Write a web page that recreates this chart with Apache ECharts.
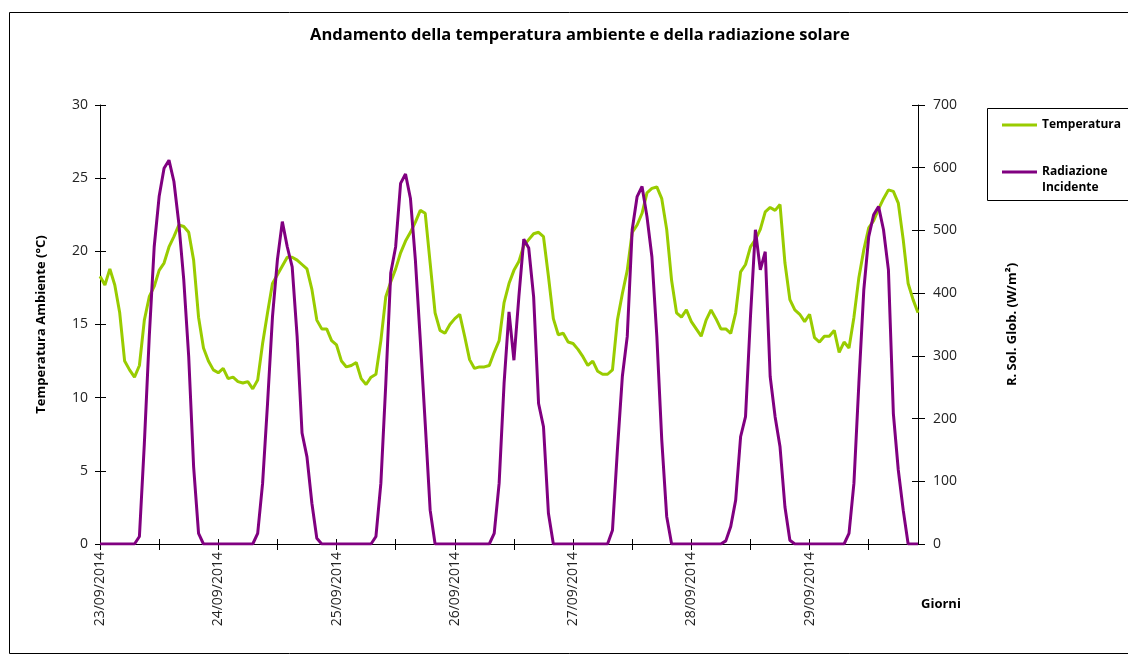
<!DOCTYPE html>
<html>
<head>
<meta charset="utf-8">
<script src="https://cdn.jsdelivr.net/npm/echarts@6/dist/echarts.min.js"></script>
<style>
html,body{margin:0;padding:0;background:#fff;}
#chart{width:1128px;height:662px;}
</style>
</head>
<body>
<div id="chart"></div>
<script>
// ---- data ----
const days = ['23/09/2014','24/09/2014','25/09/2014','26/09/2014','27/09/2014','28/09/2014','29/09/2014'];
const temperatura = [
18.3,17.7,18.8,17.7,15.8,12.5,11.9,11.4,12.2,15.3,16.9,17.6,18.7,19.2,20.3,21.0,21.8,21.7,21.3,19.4,15.5,13.4,12.5,11.9,
11.7,12.0,11.3,11.4,11.1,11.0,11.1,10.6,11.2,13.7,15.8,17.8,18.4,19.0,19.6,19.6,19.4,19.1,18.8,17.4,15.3,14.7,14.7,13.9,
13.6,12.5,12.1,12.2,12.4,11.3,10.9,11.4,11.6,13.9,16.9,17.9,18.8,19.9,20.7,21.3,22.0,22.8,22.6,19.2,15.8,14.6,14.4,15.0,
15.4,15.7,14.2,12.6,12.0,12.1,12.1,12.2,13.1,13.9,16.5,17.8,18.7,19.3,20.4,20.8,21.2,21.3,21.0,18.3,15.4,14.3,14.4,13.8,
13.7,13.3,12.8,12.2,12.5,11.8,11.6,11.6,11.9,15.3,17.1,18.7,21.3,21.8,22.6,24.0,24.3,24.4,23.6,21.5,18.0,15.8,15.5,16.0,
15.2,14.7,14.2,15.3,16.0,15.4,14.7,14.7,14.4,15.8,18.6,19.1,20.3,20.8,21.5,22.7,23.0,22.8,23.2,19.2,16.7,16.0,15.7,15.2,
15.7,14.1,13.8,14.2,14.2,14.6,13.1,13.8,13.4,15.5,18.2,20.1,21.6,22.1,22.9,23.6,24.2,24.1,23.3,20.8,17.8,16.7,15.8
];
const radiazione = [
0,0,0,0,0,0,0,0,12,160,331,474,554,599,612,578,511,421,299,123,17,0,0,0,
0,0,0,0,0,0,0,0,17,97,224,362,453,514,474,442,331,177,139,65,9,0,0,0,
0,0,0,0,0,0,0,0,12,97,256,432,474,575,590,551,453,325,192,54,0,0,0,0,
0,0,0,0,0,0,0,0,17,97,256,370,293,394,486,472,394,224,187,49,0,0,0,0,
0,0,0,0,0,0,0,0,22,150,267,331,501,554,570,522,458,331,166,44,0,0,0,0,
0,0,0,0,0,0,0,5,28,70,171,203,362,501,437,466,267,203,155,59,6,0,0,0,
0,0,0,0,0,0,0,0,17,97,256,405,490,525,538,501,437,208,118,54,0,0,0
];
const tempTicks = {min:0, max:30, interval:5};
const radTicks = {min:0, max:700, interval:100};

// categories: one per hour
const categories = temperatura.map((_, i) => {
  const h = i % 24;
  return days[Math.floor(i / 24)] + ' ' + (h < 10 ? '0' : '') + h + ':00';
});

const FONT = 'Open Sans';
const chart = echarts.init(document.getElementById('chart'));
const hiddenX = {
  type:'category', data:categories, boundaryGap:false, position:'bottom',
  axisLine:{show:false}, axisLabel:{show:false},
  axisTick:{show:true, inside:true, length:5, interval:11, lineStyle:{color:'#000'}},
  splitLine:{show:false}
};
chart.setOption({
  animation:false,
  backgroundColor:'#fff',
  title:{
    text:'Andamento della temperatura ambiente e della radiazione solare',
    left:305, top:22,
    textStyle:{fontFamily:FONT, fontSize:16.5, fontWeight:'bold', color:'#000'}
  },
  legend:{
    orient:'vertical', left:1002, top:117, itemGap:15, padding:0,
    itemWidth:35, itemHeight:3, icon:'rect',
    textStyle:{fontFamily:FONT, fontSize:12, fontWeight:'bold', color:'#000', lineHeight:16},
    formatter: n => n.indexOf(' ') > 0 ? ' \n' + n.replace(' ', '\n') : n,
    data:['Temperatura','Radiazione Incidente']
  },
  grid:{left:100, right:210, top:105, bottom:118},
  xAxis:[{
    type:'category', data:categories, boundaryGap:false, position:'bottom',
    axisLine:{show:true, lineStyle:{color:'#000', width:1}},
    axisTick:{show:true, inside:false, length:6, interval:11, lineStyle:{color:'#000'}},
    axisLabel:{interval:23, rotate:90, margin:8, fontFamily:FONT, fontSize:14, color:'#222',
      formatter: v => v.slice(0,10)},
    splitLine:{show:false}
  }, hiddenX],
  yAxis:[{
    type:'value', position:'left', min:tempTicks.min, max:tempTicks.max, interval:tempTicks.interval,
    name:'Temperatura Ambiente (°C)', nameLocation:'middle', nameRotate:90, nameGap:52,
    nameTextStyle:{fontFamily:FONT, fontSize:13, fontWeight:'bold', color:'#000'},
    axisLine:{show:true, lineStyle:{color:'#000'}},
    axisTick:{show:true, length:5, lineStyle:{color:'#000'}},
    axisLabel:{margin:12, fontFamily:FONT, fontSize:14, color:'#222'},
    splitLine:{show:false}
  },{
    type:'value', position:'right', min:radTicks.min, max:radTicks.max, interval:radTicks.interval,
    name:'R. Sol. Glob. (W/m²)', nameLocation:'middle', nameRotate:90, nameGap:88,
    nameTextStyle:{fontFamily:FONT, fontSize:13, fontWeight:'bold', color:'#000'},
    axisLine:{show:true, lineStyle:{color:'#000'}},
    axisTick:{show:true, length:7, lineStyle:{color:'#000'}},
    axisLabel:{margin:15, fontFamily:FONT, fontSize:14, color:'#222'},
    splitLine:{show:false}
  },{
    type:'value', position:'left', min:tempTicks.min, max:tempTicks.max, interval:tempTicks.interval,
    axisLine:{show:false}, axisLabel:{show:false}, splitLine:{show:false},
    axisTick:{show:true, inside:true, length:6, lineStyle:{color:'#000'}}
  },{
    type:'value', position:'right', min:radTicks.min, max:radTicks.max, interval:radTicks.interval,
    axisLine:{show:false}, axisLabel:{show:false}, splitLine:{show:false},
    axisTick:{show:true, inside:true, length:6, lineStyle:{color:'#000'}}
  }],
  graphic:[
    {type:'rect', left:7, top:10, shape:{width:1135, height:641}, style:{fill:null, stroke:'#000', lineWidth:1}, silent:true, z:-1},
    {type:'rect', left:987, top:108, shape:{width:160, height:92}, style:{fill:'#fff', stroke:'#000', lineWidth:1}, silent:true, z:-1},
    {type:'text', left:921, top:598, style:{text:'Giorni', font:'bold 13px "Open Sans"', fill:'#000'}}
  ],
  series:[{
    name:'Temperatura', type:'line', xAxisIndex:0, yAxisIndex:0, data:temperatura,
    showSymbol:false, symbol:'none', lineStyle:{color:'#99cc00', width:3}, itemStyle:{color:'#99cc00'}, z:2
  },{
    name:'Radiazione Incidente', type:'line', xAxisIndex:0, yAxisIndex:1, data:radiazione,
    showSymbol:false, symbol:'none', lineStyle:{color:'#800080', width:3}, itemStyle:{color:'#800080'}, z:3
  }]
});
</script>
</body>
</html>
